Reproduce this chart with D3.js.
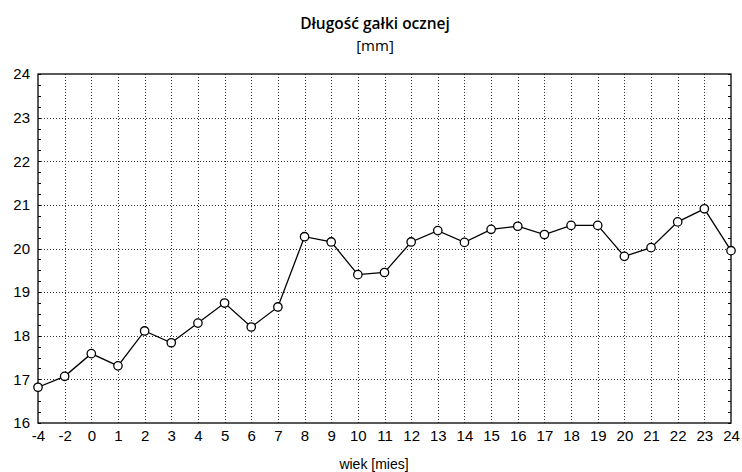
<!DOCTYPE html>
<html><head><meta charset="utf-8">
<script src="https://cdn.jsdelivr.net/npm/d3@7"></script>
<style>body{margin:0;background:#fff}svg{display:block}</style>
</head><body>
<svg id="c" width="742" height="472"></svg>
<script>
const categories = ["-4","-2","0","1","2","3","4","5","6","7","8","9","10","11","12","13","14","15","16","17","18","19","20","21","22","23","24"];
const values = [16.82,17.07,17.59,17.31,18.11,17.84,18.29,18.75,18.20,18.66,20.27,20.15,19.40,19.45,20.15,20.41,20.14,20.44,20.51,20.32,20.53,20.53,19.82,20.02,20.61,20.91,19.95];
const yTicks = [16,17,18,19,20,21,22,23,24];
const yMinor = d3.range(16, 24.001, 0.25);
const titleText = "Długość gałki ocznej";
const subtitleText = "[mm]";
const xLabel = "wiek [mies]";

const svg = d3.select("#c");
const L = 38, R = 731, T = 74, B = 423;
const x = d3.scalePoint().domain(categories).range([L, R]);
const y = d3.scaleLinear().domain([16, 24]).range([B, T]);

// grid
const g = svg.append("g");
g.selectAll(".vg").data(categories.slice(1, -1)).join("line")
  .attr("x1", d => Math.round(x(d)) + 0.5).attr("x2", d => Math.round(x(d)) + 0.5).attr("y1", T).attr("y2", B)
  .attr("stroke", "#333").attr("stroke-width", 1).attr("stroke-dasharray", "1,2");
g.selectAll(".hg").data(yTicks.slice(1, -1)).join("line")
  .attr("x1", L).attr("x2", R).attr("y1", d => Math.round(y(d)) + 0.5).attr("y2", d => Math.round(y(d)) + 0.5)
  .attr("stroke", "#333").attr("stroke-width", 1).attr("stroke-dasharray", "1,2");

// minor ticks inside left & right border
g.selectAll(".ml").data(yMinor).join("line")
  .attr("x1", L).attr("x2", L + 3).attr("y1", d => Math.round(y(d)) + 0.5).attr("y2", d => Math.round(y(d)) + 0.5)
  .attr("stroke", "#000").attr("stroke-width", 1);
g.selectAll(".mr").data(yMinor).join("line")
  .attr("x1", R - 3).attr("x2", R).attr("y1", d => Math.round(y(d)) + 0.5).attr("y2", d => Math.round(y(d)) + 0.5)
  .attr("stroke", "#000").attr("stroke-width", 1);

// frame
svg.append("rect").attr("x", L).attr("y", T).attr("width", R - L).attr("height", B - T)
  .attr("fill", "none").attr("stroke", "#000").attr("stroke-width", 1.3);

// axes (labels only)
const yAxis = d3.axisLeft(y).tickValues(yTicks).tickSize(0).tickPadding(8);
const ya = svg.append("g").attr("transform", `translate(${L},0)`).call(yAxis);
ya.select(".domain").remove();
ya.selectAll("text").attr("font-family", "Liberation Sans, Arial, sans-serif").attr("font-size", 15).attr("fill", "#000");

const xAxis = d3.axisBottom(x).tickSize(0).tickPadding(7);
const xa = svg.append("g").attr("transform", `translate(0,${B})`).call(xAxis);
xa.select(".domain").remove();
xa.selectAll("text").attr("font-family", "Liberation Sans, Arial, sans-serif").attr("font-size", 15).attr("fill", "#000");

// line
const line = d3.line().x((d, i) => x(categories[i])).y(d => y(d));
svg.append("path").datum(values).attr("d", line).attr("fill", "none")
  .attr("stroke", "#000").attr("stroke-width", 1.3);

svg.selectAll(".pt").data(values).join("circle")
  .attr("cx", (d, i) => x(categories[i])).attr("cy", d => y(d)).attr("r", 4.2)
  .attr("fill", "#fff").attr("stroke", "#000").attr("stroke-width", 1.3);

// titles
svg.append("text").attr("x", 375).attr("y", 29).attr("text-anchor", "middle")
  .attr("font-family", "Open Sans, sans-serif").attr("font-size", 15.5).attr("font-weight", 600).attr("fill", "#000").text(titleText);
svg.append("text").attr("x", 375).attr("y", 51).attr("text-anchor", "middle")
  .attr("font-family", "Open Sans, sans-serif").attr("font-size", 15).attr("fill", "#000").text(subtitleText);
svg.append("text").attr("x", 374).attr("y", 469).attr("text-anchor", "middle")
  .attr("font-family", "Liberation Sans, Arial, sans-serif").attr("font-size", 14).attr("fill", "#000").text(xLabel);
</script>
</body></html>
